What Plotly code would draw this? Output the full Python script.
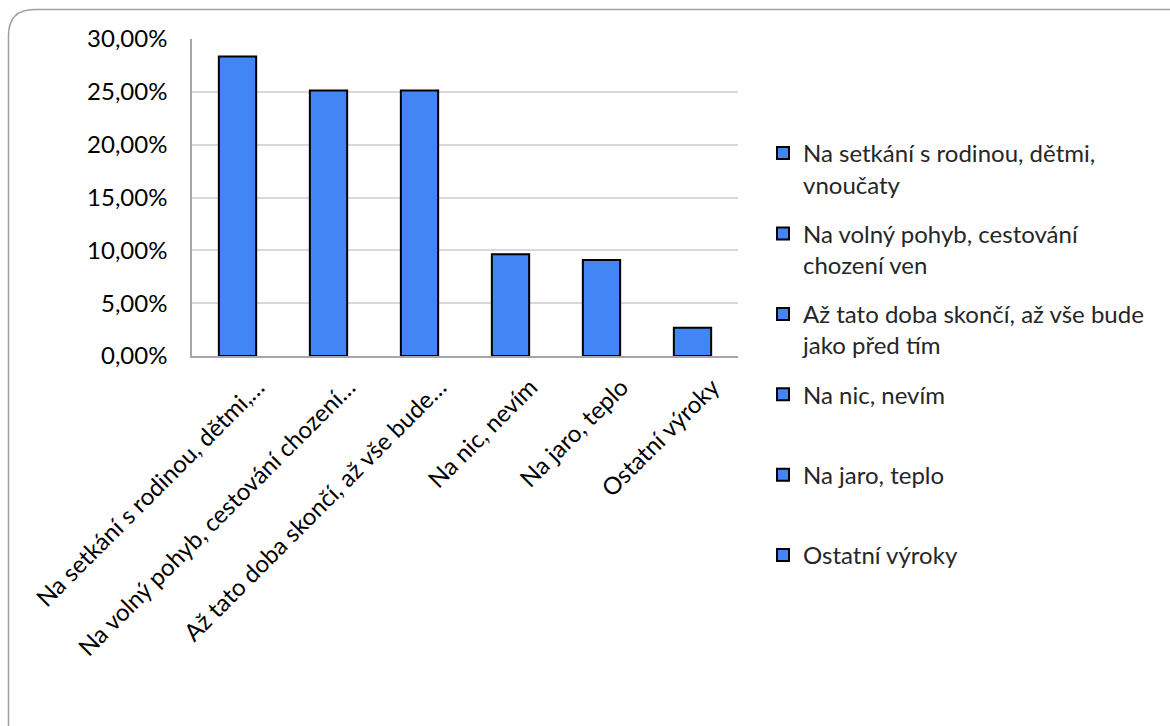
import plotly.graph_objects as go

categories = [
    "Na setkání s rodinou, dětmi, vnoučaty",
    "Na volný pohyb, cestování chození ven",
    "Až tato doba skončí, až vše bude jako před tím",
    "Na nic, nevím",
    "Na jaro, teplo",
    "Ostatní výroky",
]
tick_labels = [
    "Na setkání s rodinou, dětmi,…",
    "Na volný pohyb, cestování chození…",
    "Až tato doba skončí, až vše bude…",
    "Na nic, nevím",
    "Na jaro, teplo",
    "Ostatní výroky",
]
legend_labels = [
    "Na setkání s rodinou, dětmi,<br>vnoučaty",
    "Na volný pohyb, cestování<br>chození ven",
    "Až tato doba skončí, až vše bude<br>jako před tím",
    "Na nic, nevím<br> ",
    "Na jaro, teplo<br> ",
    "Ostatní výroky<br> ",
]
values = [0.2834, 0.2513, 0.2513, 0.0963, 0.0909, 0.0268]

W, H = 1170, 726
L, R, T, B = 192, 738, 39, 356  # plot area pixels


def px_x(p):
    return (p - L) / (R - L)


def px_y(p):
    return (B - p) / (B - T)


FONT = "Lato"
FS = 24
fig = go.Figure()
for i, (cat, val) in enumerate(zip(categories, values)):
    fig.add_trace(go.Bar(
        x=[cat], y=[val], name=legend_labels[i], legendgroup=f"g{i}",
        width=0.41,
        marker=dict(color="#4285F4", line=dict(color="#000000", width=2)),
    ))

# rounded outer frame
x0, y0, x1, y1, r = 8.5, 9.5, 1200, 760, 26
path = (
    f"M {px_x(x0)},{px_y(y0 + r)} "
    f"Q {px_x(x0)},{px_y(y0)} {px_x(x0 + r)},{px_y(y0)} "
    f"L {px_x(x1 - r)},{px_y(y0)} "
    f"Q {px_x(x1)},{px_y(y0)} {px_x(x1)},{px_y(y0 + r)} "
    f"L {px_x(x1)},{px_y(y1 - r)} "
    f"Q {px_x(x1)},{px_y(y1)} {px_x(x1 - r)},{px_y(y1)} "
    f"L {px_x(x0 + r)},{px_y(y1)} "
    f"Q {px_x(x0)},{px_y(y1)} {px_x(x0)},{px_y(y1 - r)} Z"
)
fig.add_shape(type="path", path=path, xref="paper", yref="paper",
              line=dict(color="#A0A0A0", width=1.5), layer="below")

fig.update_layout(
    width=W, height=H,
    margin=dict(l=L, r=W - R, t=T, b=H - B, pad=0),
    paper_bgcolor="white", plot_bgcolor="white",
    separators=", ",
    barmode="overlay",
    font=dict(family=FONT, size=FS, color="#000000"),
    showlegend=True,
    legend=dict(
        x=px_x(763), y=px_y(131), xanchor="left", yanchor="top",
        font=dict(family=FONT, size=FS, color="#262626"),
        valign="top", tracegroupgap=15, traceorder="grouped",
        bgcolor="rgba(0,0,0,0)", maxheight=700,
    ),
    xaxis=dict(
        type="category", categoryorder="array", categoryarray=categories,
        tickvals=categories, ticktext=tick_labels, tickangle=-45,
        showline=True, linecolor="#A6A6A6", linewidth=1.5,
        showgrid=False, ticks="", ticklabelshift=20, ticklabelstandoff=6,
        tickfont=dict(family=FONT, size=FS, color="#000000"),
        fixedrange=True,
    ),
    yaxis=dict(
        range=[0, 0.30], dtick=0.05, tick0=0, tickformat=".2%",
        showline=True, linecolor="#A6A6A6", linewidth=1.5,
        showgrid=True, gridcolor="#D9D9D9", gridwidth=1.5,
        zeroline=False, ticks="", ticklabelstandoff=18,
        tickfont=dict(family=FONT, size=FS, color="#000000"),
        fixedrange=True,
    ),
)

fig.write_html("out.html")
